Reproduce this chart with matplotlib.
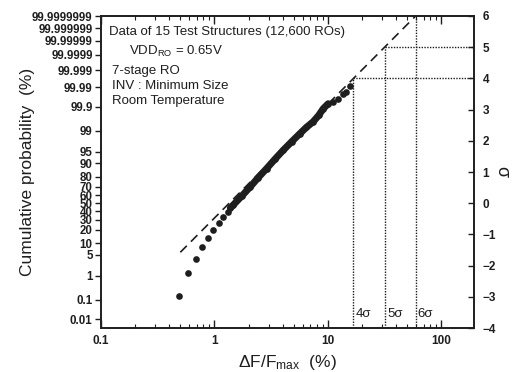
import matplotlib.pyplot as plt
from statistics import NormalDist

plt.rcParams['font.family'] = ['Liberation Sans', 'DejaVu Sans']
plt.rcParams['mathtext.fontset'] = 'custom'
plt.rcParams['mathtext.rm'] = 'Liberation Sans'
plt.rcParams['mathtext.it'] = 'Liberation Sans:italic'

# left axis labels (cumulative probability, %)
prob_labels = ['0.01', '0.1', '1', '5', '10', '20', '30', '40', '50', '60', '70',
               '80', '90', '95', '99', '99.9', '99.99', '99.999', '99.9999',
               '99.99999', '99.999999', '99.9999999']
sigma_ticks = [-4, -3, -2, -1, 0, 1, 2, 3, 4, 5, 6]

# sparse points in the lower tail
tail_x = [0.49, 0.587, 0.687, 0.78, 0.88, 0.98, 1.10, 1.20, 1.31]
tail_s = [-2.98, -2.23, -1.80, -1.41, -1.11, -0.87, -0.63, -0.45, -0.29]
# dense part of the distribution (12,600 ROs)
band_x = [1.38, 1.46, 1.74, 2.06, 2.43, 2.88, 3.41, 4.04, 4.79, 5.66, 6.46,
          7.41, 8.32, 9.10, 10.07]
band_s = [-0.15, -0.06, 0.23, 0.52, 0.82, 1.11, 1.41, 1.70, 1.97, 2.23, 2.43,
          2.61, 2.82, 3.03, 3.19]
# sparse points in the upper tail
top_x = [11.1, 12.3, 13.6, 14.4, 15.6]
top_s = [3.25, 3.35, 3.51, 3.57, 3.75]

# extrapolation line and sigma markers
fit_x = [0.5, 59.5]
fit_s = [-1.57, 6.0]
level_s = [4, 5, 6]
level_x = [16.8, 32.0, 59.5]

fig = plt.figure(figsize=(5.21, 3.72), dpi=100)
ax = fig.add_axes([0.194, 0.118, 0.716, 0.839])
ink = '#1e1e1e'

ax.set_xscale('log')
ax.set_xlim(0.1, 195)
ax.set_ylim(-4, 6)

ax.plot(band_x, band_s, color=ink, lw=5.0, solid_capstyle='round', zorder=3)
ax.plot(tail_x + band_x + top_x, tail_s + band_s + top_s, 'o', color=ink,
        ms=4.8, mew=0, zorder=3)
ax.plot(fit_x, fit_s, color=ink, lw=1.2, dashes=(5.5, 3.5))

for s, x in zip(level_s, level_x):
    ax.plot([x, x], [-4, s], color=ink, lw=1.0, ls=(0, (1, 1)))
    if s < 6:
        ax.plot([x, 195], [s, s], color=ink, lw=1.0, ls=(0, (1, 1)))
    ax.text(x * 1.04, -3.55, f'{s}σ', fontsize=9.5, va='center', ha='left',
            color=ink)

# left: probability scale
nd = NormalDist()
prob_pos = [nd.inv_cdf(float(p) / 100) for p in prob_labels]
ax.set_yticks(prob_pos)
ax.set_yticklabels(prob_labels, fontsize=8.3, fontweight='bold')
ax.tick_params(axis='y', direction='out', length=4, width=1, colors=ink, pad=2)
ax.tick_params(axis='x', which='both', direction='in', top=True, colors=ink)
ax.tick_params(axis='x', which='major', length=6, width=1, labelsize=8.5, pad=5)
ax.tick_params(axis='x', which='minor', length=3, width=0.8)
ax.set_xticks([0.1, 1, 10, 100])
ax.set_xticklabels(['0.1', '1', '10', '100'], fontweight='bold')

# right: sigma scale
ax2 = ax.twinx()
ax2.set_ylim(-4, 6)
ax2.set_yticks(sigma_ticks)
ax2.set_yticklabels([str(v).replace('-', '\u2212') for v in sigma_ticks],
                    fontsize=8.5, fontweight='bold')
ax2.tick_params(axis='y', direction='in', length=4, width=1, colors=ink, pad=6)

for a in (ax, ax2):
    for sp in a.spines.values():
        sp.set_color(ink)
        sp.set_linewidth(1.2)

ax.set_ylabel('Cumulative probability  (%)', fontsize=12.5, color=ink)
ax.yaxis.set_label_coords(-0.178, 0.5)
ax.set_xlabel(r'ΔF/F$_{\rm max}$  (%)', fontsize=12.5, color=ink, labelpad=4)
ax2.set_ylabel('σ', fontsize=13, rotation=270, color=ink, labelpad=10)

notes = [(0.02, 0.95, 'Data of 15 Test Structures (12,600 ROs)'),
         (0.075, 0.885, r'VDD$_{\rm RO}$ = 0.65V'),
         (0.03, 0.825, '7-stage RO'),
         (0.03, 0.775, 'INV : Minimum Size'),
         (0.03, 0.727, 'Room Temperature')]
for x, y, t in notes:
    ax.text(x, y, t, transform=ax.transAxes, fontsize=9.5, va='center',
            ha='left', color=ink)

fig.savefig('out.png', dpi=100)
